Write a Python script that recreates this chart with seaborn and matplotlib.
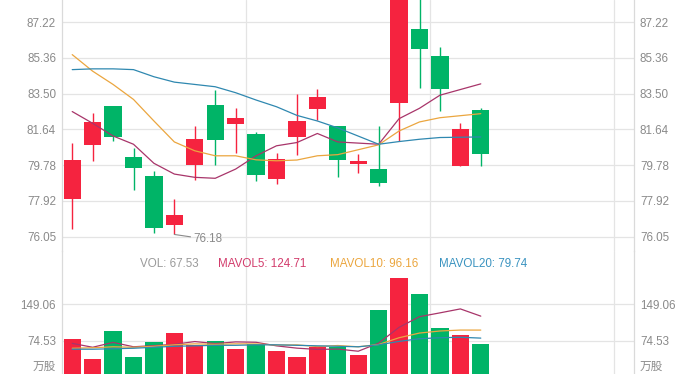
import numpy as np
import pandas as pd
import matplotlib
matplotlib.use("Agg")
import matplotlib.pyplot as plt
import seaborn as sns

# 日K数据
open_ = [78.01, 80.81, 82.85, 80.20, 79.22, 76.68, 79.77, 82.89, 81.91, 81.41, 79.08,
         81.25, 82.70, 81.82, 79.86, 79.60, 83.03, 86.86, 85.48, 79.72, 82.63]
close = [80.06, 82.01, 81.25, 79.63, 76.49, 77.19, 81.12, 81.08, 82.22, 79.29, 80.08,
         82.06, 83.34, 80.03, 79.98, 78.87, 88.71, 85.80, 83.72, 81.65, 80.36]
high = [80.93, 82.49, 82.85, 80.68, 79.46, 78.01, 81.84, 83.70, 82.75, 81.53, 80.39,
        83.46, 83.75, 81.82, 80.34, 81.84, 88.90, 89.20, 85.91, 82.00, 82.77]
low = [76.44, 80.01, 81.04, 78.51, 76.24, 76.18, 79.03, 79.79, 80.41, 78.96, 78.79,
       80.31, 82.13, 79.15, 79.37, 78.70, 81.04, 83.82, 82.60, 79.72, 79.72]
ma5 = [82.57, 81.96, 81.30, 80.87, 79.88, 79.32, 79.15, 79.10, 79.58, 80.27, 80.79,
       80.96, 81.43, 80.99, np.nan, 80.87, 82.20, 82.74, 83.42, np.nan, 84.01]
ma10 = [85.53, 84.67, 83.98, 83.20, 82.08, 80.99, 80.53, 80.27, 80.27, 80.06, 80.01,
        80.05, 80.27, 80.33, np.nan, 80.84, 81.56, 82.03, 82.25, np.nan, 82.46]
ma20 = [84.75, 84.79, 84.79, 84.75, 84.38, 84.10, 83.98, 83.86, 83.55, 83.17, 82.82,
        82.37, 82.08, 81.72, np.nan, 80.87, 81.01, 81.13, 81.22, np.nan, 81.25]

volume = [77.4, 37.1, 95.0, 40.5, 71.9, 90.3, 65.7, 73.9, 58.2, 67.8, 54.1,
          41.8, 61.0, 61.6, 45.9, 137.4, 202.9, 170.1, 100.5, 86.8, 67.53]
mavol5 = [69.0, 61.0, 71.0, 62.0, 64.4, 67.0, 72.7, 68.5, 72.0, 71.2, 63.9,
          59.2, 56.6, 57.3, 52.9, 69.5, 101.8, 123.6, 131.4, 139.5, 124.71]
mavol10 = [59.0, 60.0, 62.0, 61.0, 63.0, 66.0, 68.0, 67.0, 68.0, 67.8, 65.5,
           65.9, 62.5, 64.6, 62.0, 66.7, 80.5, 90.1, 94.3, 96.2, 96.16]
mavol20 = [57.0, 57.0, 58.0, 59.0, 61.0, 63.0, 64.0, 65.0, 65.0, 66.0, 66.0,
           65.0, 64.0, 63.0, 62.0, 66.0, 73.0, 78.5, 80.5, 81.5, 79.74]

price_ticks = [76.05, 77.92, 79.78, 81.64, 83.50, 85.36, 87.22]
vol_ticks = [74.53, 149.06]

RED = "#F5233F"
GREEN = "#00B467"
C_MA5 = "#A8356A"
C_MA10 = "#EBA63F"
C_MA20 = "#2F88B0"
GRID = "#E4E4E4"
TXT = "#8A8A8A"

sns.set_style("white")
plt.rcParams["font.family"] = ["Liberation Sans", "Noto Sans CJK SC", "DejaVu Sans"]

W, H = 697, 374
fig = plt.figure(figsize=(W / 100, H / 100), dpi=100)
ax = fig.add_axes([62 / W, (H - 251) / H, 572 / W, 251 / H])
axv = fig.add_axes([62 / W, 0, 572 / W, 123 / H])

df = pd.DataFrame(dict(day=np.arange(len(close)), open=open_, close=close, high=high, low=low,
                       vol=volume, ma5=ma5, ma10=ma10, ma20=ma20,
                       mv5=mavol5, mv10=mavol10, mv20=mavol20))
df["color"] = np.where(df["close"] >= df["open"], RED, GREEN)

# candles
ax.vlines(df["day"], df["low"], df["high"], colors=df["color"], lw=1, zorder=2)
ax.bar(df["day"], (df["close"] - df["open"]).abs().clip(lower=0.08),
       bottom=df[["open", "close"]].min(axis=1), width=0.85, color=df["color"],
       linewidth=0, zorder=3)

for col, c in [("ma5", C_MA5), ("ma10", C_MA10), ("ma20", C_MA20)]:
    d = df[["day", col]].dropna()
    sns.lineplot(data=d, x="day", y=col, ax=ax, color=c, lw=0.9, legend=False, zorder=4)

lo = df.loc[df["low"].idxmin()]
ax.annotate(f"{lo['low']:.2f}", xy=(lo["day"], lo["low"]), xytext=(14, -3.6),
            textcoords="offset points", va="center", ha="left", fontsize=8.4, color=TXT,
            arrowprops=dict(arrowstyle="-", color=TXT, lw=0.8, shrinkA=0, shrinkB=0))

# volume
axv.bar(df["day"], df["vol"], width=0.85, color=df["color"], linewidth=0, zorder=2)
for col, c in [("mv5", C_MA5), ("mv10", C_MA10), ("mv20", C_MA20)]:
    sns.lineplot(data=df, x="day", y=col, ax=axv, color=c, lw=0.9, legend=False, zorder=4)

labels = [(f"VOL: {volume[-1]:.2f}", "#9A9A9A", 140),
          (f"MAVOL5: {mavol5[-1]:.2f}", "#D23C6C", 218),
          (f"MAVOL10: {mavol10[-1]:.2f}", "#EBA63F", 330),
          (f"MAVOL20: {mavol20[-1]:.2f}", "#3A93C0", 439)]
for s, c, xp in labels:
    fig.text(xp / W, 1 - 264 / H, s, color=c, fontsize=8.4, ha="left", va="center")

for a, ticks, ylim in [(ax, price_ticks, (75.32, 88.37)), (axv, vol_ticks, (6.3, 258.0))]:
    a.set_xlim(-0.5, 27.5)
    a.set_ylim(*ylim)
    a.set_yticks(ticks)
    a.set_yticklabels([f"{t:.2f}" for t in ticks])
    a.set_xticks([8.5, 17.5, 26.5])
    a.set_xticklabels([])
    a.set_xlabel("")
    a.set_ylabel("")
    a.grid(True, color=GRID, lw=0.9)
    a.set_axisbelow(True)
    a.tick_params(length=0, labelsize=8.4, labelcolor=TXT, pad=4.3,
                  labelleft=True, labelright=True)
    for sp in ["top", "bottom"]:
        a.spines[sp].set_visible(False)
    for sp in ["left", "right"]:
        a.spines[sp].set_color("#DADADA")
        a.spines[sp].set_linewidth(0.9)
    a.patch.set_alpha(0)

# unit label at the foot of the volume axis
for xp, ha in [(56, "right"), (640, "left")]:
    fig.text(xp / W, 1.5 / H, "万股", color=TXT, fontsize=8.4, ha=ha, va="bottom",
             family=["Noto Sans CJK SC", "DejaVu Sans"])

fig.savefig("out.png", dpi=100)
